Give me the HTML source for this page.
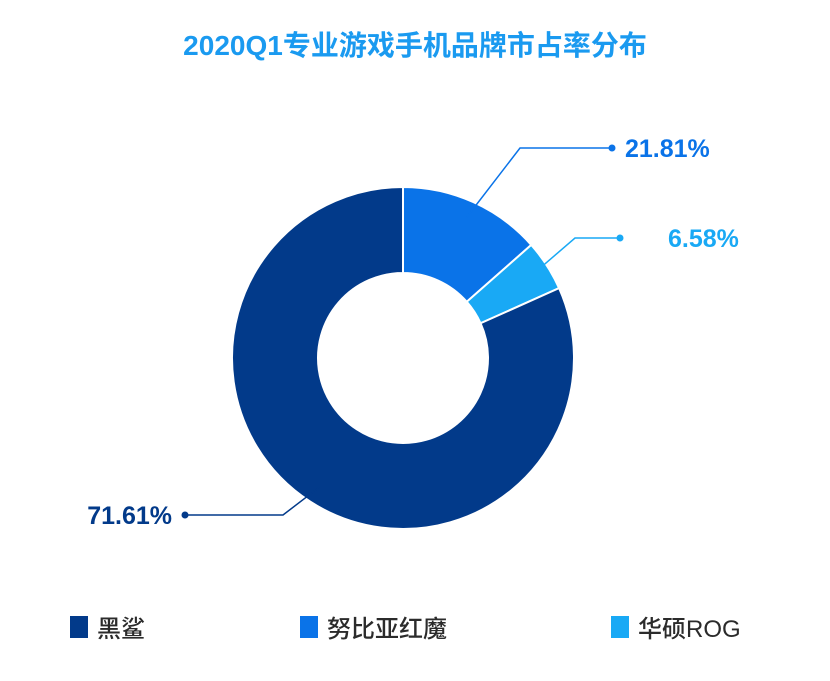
<!DOCTYPE html>
<html><head><meta charset="utf-8"><style>
body{margin:0;width:830px;height:676px;background:#fff;overflow:hidden;font-family:"Liberation Sans","Noto Sans CJK SC",sans-serif}
</style></head><body>
<svg id="chart" width="830" height="676">
<text x="415" y="55" text-anchor="middle" font-size="28" font-weight="bold" fill="#1a9af0" font-family="Liberation Sans, Noto Sans CJK SC, sans-serif">2020Q1专业游戏手机品牌市占率分布</text>
<g id="slices"></g><g id="labels"></g><g id="legend"></g>
</svg>
<script>
const categories=["努比亚红魔","华硕ROG","黑鲨"];
const values=[13.5,4.8,81.7];
const labelTexts=["21.81%","6.58%","71.61%"];
const colors=["#0a73e8","#19a9f5","#023a8a"];
const NS="http://www.w3.org/2000/svg";
const cx=403,cy=358,R=171,r=85;
function mk(t,a,p){const e=document.createElementNS(NS,t);for(const k in a)e.setAttribute(k,a[k]);p.appendChild(e);return e;}
function pt(ang,rad){return [cx+rad*Math.sin(ang),cy-rad*Math.cos(ang)];}
const total=values.reduce((a,b)=>a+b,0);
let acc=0;
const sg=document.getElementById('slices'),lg=document.getElementById('labels'),gg=document.getElementById('legend');
const labelPos=[{ex:520,ey:148,dx:612,tx:625,anchor:"start"},{ex:575,ey:238,dx:620,tx:668,anchor:"start"},{ex:283,ey:515,dx:185,tx:172,anchor:"end"}];
values.forEach((v,i)=>{
  const a0=acc/total*2*Math.PI;acc+=v;const a1=acc/total*2*Math.PI;
  const large=(a1-a0)>Math.PI?1:0;
  const [x0,y0]=pt(a0,R),[x1,y1]=pt(a1,R),[x2,y2]=pt(a1,r),[x3,y3]=pt(a0,r);
  const p=mk('path',{d:`M${x0},${y0}A${R},${R} 0 ${large} 1 ${x1},${y1}L${x2},${y2}A${r},${r} 0 ${large} 0 ${x3},${y3}Z`,fill:colors[i],stroke:"#fff","stroke-width":2},sg);
  
  
  const mid=(a0+a1)/2;const [sx,sy]=pt(mid,R*0.9);const L=labelPos[i];
  const pl=mk('polyline',{points:`${sx},${sy} ${L.ex},${L.ey} ${L.dx},${L.ey}`,fill:"none",stroke:colors[i],"stroke-width":1.5},lg);
  
  
  mk('circle',{cx:L.dx,cy:L.ey,r:3.5,fill:colors[i]},lg);
  const t=mk('text',{x:L.tx,y:L.ey+9,"text-anchor":L.anchor,"font-size":25,"font-weight":"bold",fill:colors[i]},lg);
  t.textContent=labelTexts[i];
  
  
});
const legOrder=[2,0,1],legX=[70,300,611];
legOrder.forEach((ci,k)=>{
  const rc=mk('rect',{x:legX[k],y:616,width:18,height:22,fill:colors[ci]},gg);
  
  
  const t=mk('text',{x:legX[k]+27,y:637,"font-size":24,"font-weight":"500",fill:"#2b2b2b"},gg);
  t.textContent=categories[ci];
  
  
});
</script>
</body></html>
